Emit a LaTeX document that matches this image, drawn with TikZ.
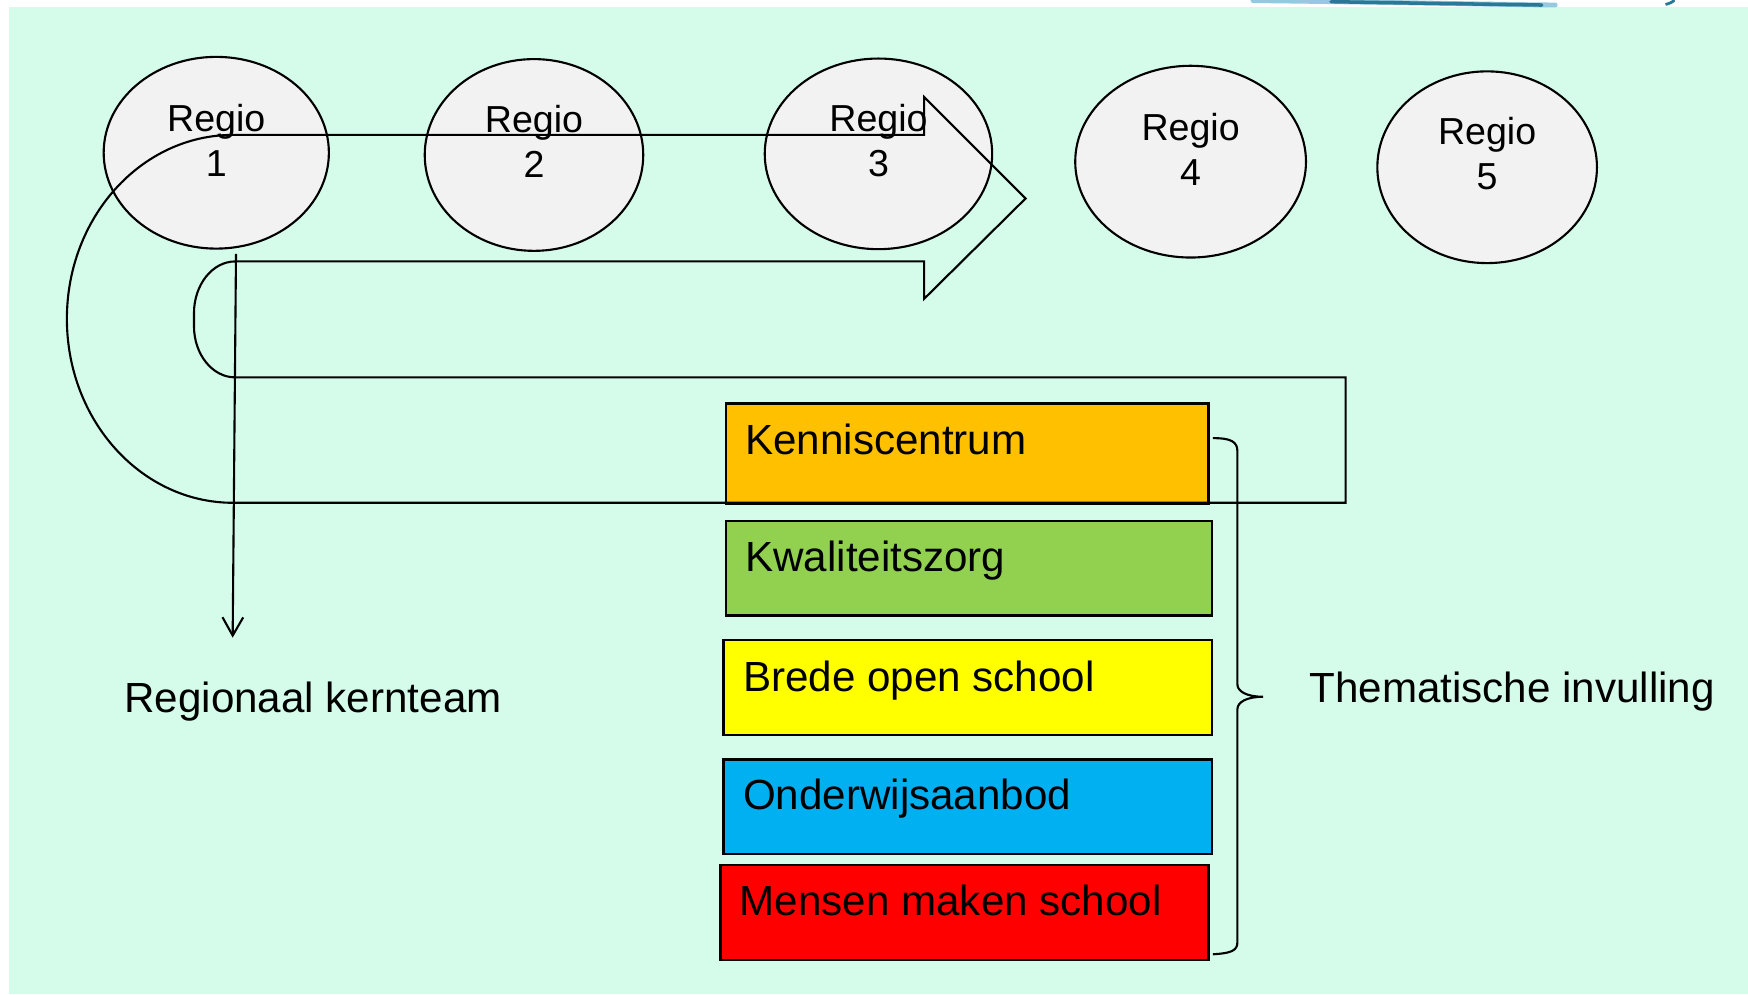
\documentclass[tikz,border=0pt]{standalone}
\usepackage{fontspec}
\setmainfont{Liberation Sans}
\usetikzlibrary{shapes.geometric,arrows.meta}
\definecolor{mint}{RGB}{213,252,235}
\definecolor{ellfill}{RGB}{242,242,242}
\definecolor{korange}{HTML}{FFC000}
\definecolor{kgreen}{HTML}{92D050}
\definecolor{kyellow}{HTML}{FFFF00}
\definecolor{kblue}{HTML}{00B0F0}
\definecolor{kred}{HTML}{FF0000}
\definecolor{swooshlight}{RGB}{150,200,225}
\definecolor{swooshdark}{RGB}{40,120,150}
\def\u{0.011148cm}
\begin{document}
\begin{tikzpicture}[x=0.011148cm,y=-0.011148cm,
  regio/.style={ellipse, draw, line width=0.6pt, fill=ellfill, inner sep=0pt},
  regiotxt/.style={font=\fontsize{10.7}{12.8}\selectfont, align=center, anchor=base, inner sep=0pt},
  themebox/.style={draw, line width=0.7pt, inner sep=0pt, anchor=north west},
  boxtxt/.style={font=\fontsize{12}{14}\selectfont, anchor=base west, inner sep=0pt},
  shapeline/.style={line width=0.6pt}]
% background
\fill[white] (0,0) rectangle (1568,891.7);
\useasboundingbox (0,0) rectangle (1568,891.7);
\fill[mint] (8,6) rectangle (1568,891.7);
% top swoosh (decoration)
\draw[swooshlight, line width=1.4pt, line cap=round] (1124,0.5) .. controls (1250,2) and (1340,4) .. (1395,4.5);
\draw[swooshdark, line width=1.0pt, line cap=round] (1194,1.5) .. controls (1280,3) and (1350,4) .. (1383,4.5);
\draw[swooshdark, line width=0.8pt] (1494,4) .. controls (1498,3) and (1501,1.5) .. (1502,0);
% regions
\node[regio, minimum width={202*\u}, minimum height={172*\u}] (r1) at (194,137) {};
\node[regio, minimum width={196*\u}, minimum height={172*\u}] (r2) at (479,139) {};
\node[regio, minimum width={204*\u}, minimum height={171*\u}] (r3) at (788,138) {};
\node[regio, minimum width={207*\u}, minimum height={172*\u}] (r4) at (1068,145) {};
\node[regio, minimum width={197*\u}, minimum height={172*\u}] (r5) at (1334,150) {};
\node[regiotxt] (r1t) at (194,158) {Regio\\1};
\node[regiotxt] (r2t) at (479,159) {Regio\\2};
\node[regiotxt] (r3t) at (788,158) {Regio\\3};
\node[regiotxt] (r4t) at (1068,166) {Regio\\4};
\node[regiotxt] (r5t) at (1334,170) {Regio\\5};
% theme boxes
\node[themebox, fill=korange, minimum width={433*\u}, minimum height={90*\u}] (k) at (650,361) {};
\node[themebox, fill=kgreen, minimum width={436*\u}, minimum height={85*\u}] (q) at (650,466) {};
\node[themebox, fill=kyellow, minimum width={438*\u}, minimum height={85*\u}] (b) at (648,573) {};
\node[themebox, fill=kblue, minimum width={438*\u}, minimum height={85*\u}] (o) at (648,680) {};
\node[themebox, fill=kred, minimum width={438*\u}, minimum height={85*\u}] (m) at (645,775) {};
\node[boxtxt] (kt) at (668,408) {Kenniscentrum};
\node[boxtxt] (qt) at (668,513) {Kwaliteitszorg};
\node[boxtxt] (bt) at (666,620) {Brede open school};
\node[boxtxt] (ot) at (666,726) {Onderwijsaanbod};
\node[boxtxt] (mt) at (663,821) {Mensen maken school};
% big U-turn arrow
\draw[shapeline] (209,121) -- (829,121) -- (829,87) -- (920,178) -- (829,268) -- (829,234.5) -- (211,234.5)
  arc[start angle=270, end angle=180, x radius=37, y radius=46.5] -- (174,292.5)
  arc[start angle=180, end angle=90, x radius=37, y radius=46]
  -- (1207,338.5) -- (1207,451) -- (209,451)
  arc[start angle=90, end angle=270, x radius=149, y radius=165] -- cycle;
% regional core team arrow
\node[boxtxt] (rk) at (111,639) {Regionaal kernteam};
\coordinate (rkend) at (208.7,572);
\draw[shapeline, -{Straight Barb[length=5.2pt,width=5.9pt]}] ([shift={(17.7,3.7)}]r1.south) -- (rkend);
% brace
\draw[shapeline] (1088,393) .. controls (1104,393) and (1110,396) .. (1110,405)
  -- (1110,614) .. controls (1110,620) and (1118,625) .. (1133,625)
  .. controls (1118,625) and (1110,630) .. (1110,636)
  -- (1110,845) .. controls (1110,853) and (1104,855) .. (1088,856);
\node[boxtxt] (ti) at (1174,630) {Thematische invulling};
\end{tikzpicture}
\end{document}
